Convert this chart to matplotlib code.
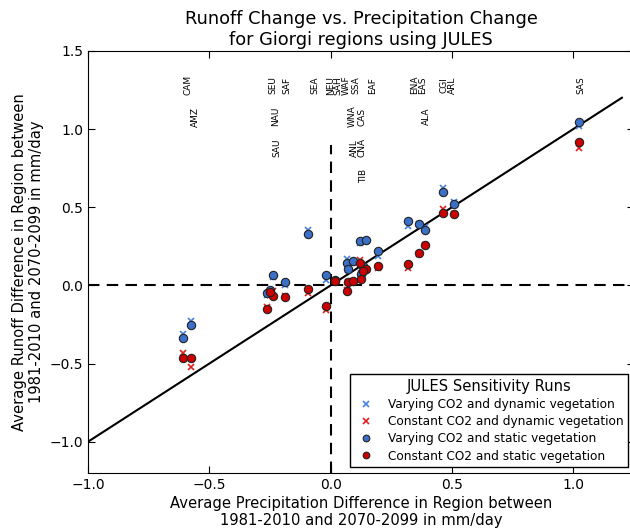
import matplotlib
matplotlib.use("Agg")
import matplotlib.pyplot as plt
import numpy as np

# Giorgi regions, precipitation change (x) and runoff change for each JULES run
regions = ["CAM", "AMZ", "SEU", "NAU", "SAU", "SAF", "SEA", "NEU", "SAH", "WAF",
           "WNA", "SSA", "ANL", "CAS", "CNA", "TIB", "EAF", "ENA", "EAS", "ALA",
           "CGI", "ARL", "SAS"]
precip = [-0.607, -0.576, -0.263, -0.236, -0.249, -0.19, -0.092, -0.019, 0.019, 0.067,
          0.073, 0.092, 0.125, 0.122, 0.146, 0.135, 0.193, 0.317, 0.365, 0.39,
          0.463, 0.509, 1.022]
vary_dyn = [-0.31, -0.228, -0.06, 0.055, -0.035, 0.0, 0.356, 0.032, 0.03, 0.17,
            0.1, 0.15, 0.08, 0.27, 0.285, 0.12, 0.19, 0.378, 0.39, 0.375,
            0.62, 0.535, 1.02]
const_dyn = [-0.432, -0.524, -0.14, -0.036, -0.06, -0.07, -0.049, -0.16, 0.03, -0.03,
             0.02, 0.03, 0.045, 0.16, 0.1, 0.095, 0.11, 0.113, 0.2, 0.26,
             0.49, 0.455, 0.878]
vary_static = [-0.336, -0.251, -0.049, 0.064, -0.03, 0.019, 0.33, 0.068, 0.035, 0.143,
               0.105, 0.153, 0.075, 0.281, 0.288, 0.121, 0.217, 0.409, 0.394, 0.356,
               0.594, 0.52, 1.048]
const_static = [-0.464, -0.464, -0.151, -0.066, -0.045, -0.077, -0.021, -0.134, 0.03, -0.034,
                0.019, 0.026, 0.041, 0.143, 0.105, 0.089, 0.121, 0.137, 0.207, 0.256,
                0.466, 0.456, 0.916]
# where each region name is written (x shifted a little so names don't collide)
label_x = [-0.588, -0.559, -0.240, -0.225, -0.221, -0.179, -0.064, -0.002, 0.031, 0.064,
           0.087, 0.104, 0.097, 0.128, 0.130, 0.134, 0.171, 0.347, 0.380, 0.396,
           0.468, 0.501, 1.029]
label_y = [1.28, 1.08, 1.28, 1.08, 0.88, 1.28, 1.28, 1.28, 1.28, 1.28,
           1.08, 1.28, 0.88, 1.08, 0.88, 0.70, 1.28, 1.28, 1.28, 1.08,
           1.28, 1.28, 1.28]

fig = plt.figure(figsize=(6.3, 5.29), dpi=100)
# right spine sits just past the picture edge, as in the original
ax = fig.add_axes([0.1397, 0.1059, 0.8667, 0.798])

blue = "#3a70c8"
red = "#cc0000"

# reference lines
ax.plot([-1, 1.2], [-1, 1.2], color="black", lw=1.5, zorder=1)
ax.axhline(0, color="black", lw=1.5, dashes=(5.5, 3.5), zorder=1)
ax.plot([0, 0], [-1.2, 0.9], color="black", lw=1.5, dashes=(5.5, 3.5), zorder=1)

ax.plot(precip, vary_dyn, linestyle="", marker="x", ms=5, mew=1.2, color="#4a80dd",
        label="Varying CO2 and dynamic vegetation", zorder=2)
ax.plot(precip, const_dyn, linestyle="", marker="x", ms=5, mew=1.2, color="#e02020",
        label="Constant CO2 and dynamic vegetation", zorder=2)
ax.plot(precip, vary_static, linestyle="", marker="o", ms=6, mfc=blue, mec="#222222",
        mew=0.8, label="Varying CO2 and static vegetation", zorder=3)
ax.plot(precip, const_static, linestyle="", marker="o", ms=6, mfc=red, mec="#222222",
        mew=0.8, label="Constant CO2 and static vegetation", zorder=3)

for name, xv, yv in zip(regions, label_x, label_y):
    ax.text(xv, yv, name, rotation=90, ha="center", va="center", fontsize=6.5)

ax.set_xlim(-1, 1.25)
ax.set_ylim(-1.2, 1.5)
ax.set_xticks(np.arange(-1.0, 1.01, 0.5))
ax.set_yticks(np.arange(-1.0, 1.51, 0.5))
ax.tick_params(direction="in", top=True, right=True, length=5, labelsize=10)

ax.set_title("Runoff Change vs. Precipitation Change\nfor Giorgi regions using JULES",
             fontsize=12.8, pad=4)
ax.set_xlabel("Average Precipitation Difference in Region between\n1981-2010 and 2070-2099 in mm/day",
              fontsize=10.6, labelpad=3)
ax.set_ylabel("Average Runoff Difference in Region between\n1981-2010 and 2070-2099 in mm/day",
              fontsize=10.6)

leg = ax.legend(loc="lower right", title="JULES Sensitivity Runs", fontsize=8.75,
                markerscale=0.8, fancybox=False, edgecolor="black", framealpha=1,
                borderaxespad=0.5, handletextpad=0.8, labelspacing=0.35,
                borderpad=0.35)
leg.get_title().set_fontsize(10.6)
leg.get_frame().set_linewidth(1.0)

fig.savefig("out.png", dpi=100)
